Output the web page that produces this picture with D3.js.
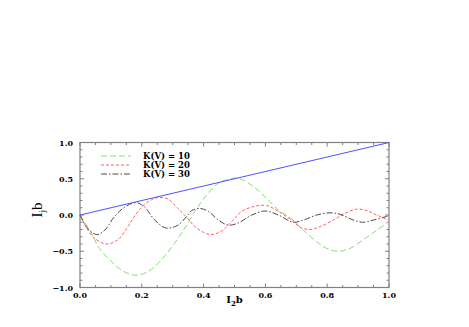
<!DOCTYPE html>
<head>
  <meta charset="utf-8">
  <script src="https://d3js.org/d3.v7.min.js"></script>
  <style>
    body { margin: 0; background: #fff; }
    .tick-label { font: bold 8px 'DejaVu Serif', serif; fill: #000; }
    .legend text { font: bold 8.5px 'DejaVu Serif', serif; fill: #000; }
    .axis-title { font-family: 'DejaVu Serif', serif; font-weight: bold; fill: #000; }
  </style>
</head>
<body>
<script>
// values
var xK10 = [0, 0.037, 0.058, 0.101, 0.134, 0.177, 0.220, 0.263, 0.306, 0.345, 0.372, 0.405, 0.448, 0.480, 0.510, 0.556, 0.599, 0.642, 0.690, 0.723, 0.766, 0.798, 0.836, 0.874, 0.917, 0.960, 1.0];
var yK10 = [0, -0.25, -0.43, -0.64, -0.76, -0.83, -0.78, -0.62, -0.39, -0.14, 0.05, 0.25, 0.44, 0.49, 0.51, 0.41, 0.25, 0.07, -0.07, -0.21, -0.37, -0.46, -0.50, -0.46, -0.34, -0.21, -0.09];

var xK20 = [0, 0.026, 0.047, 0.085, 0.123, 0.155, 0.188, 0.220, 0.252, 0.285, 0.317, 0.345, 0.372, 0.405, 0.426, 0.459, 0.491, 0.523, 0.566, 0.604, 0.642, 0.690, 0.712, 0.744, 0.777, 0.820, 0.852, 0.895, 0.928, 0.960, 1.0];
var yK20 = [0, -0.21, -0.32, -0.40, -0.34, -0.16, 0.05, 0.18, 0.24, 0.22, 0.09, -0.03, -0.16, -0.25, -0.27, -0.22, -0.09, 0.05, 0.12, 0.13, 0.05, -0.09, -0.17, -0.20, -0.16, -0.07, 0.01, 0.08, 0.06, 0.0, -0.07];

var xK30 = [0, 0.020, 0.042, 0.058, 0.080, 0.112, 0.145, 0.182, 0.209, 0.242, 0.279, 0.317, 0.345, 0.361, 0.388, 0.415, 0.448, 0.480, 0.512, 0.556, 0.599, 0.642, 0.690, 0.723, 0.766, 0.809, 0.841, 0.885, 0.917, 0.949, 1.0];
var yK30 = [0, -0.16, -0.25, -0.27, -0.21, -0.02, 0.11, 0.17, 0.11, -0.07, -0.18, -0.14, -0.02, 0.06, 0.09, 0.05, -0.07, -0.14, -0.11, 0.0, 0.055, 0.0, -0.10, -0.07, 0.0, 0.03, 0.01, -0.07, -0.10, -0.07, -0.01];

var xLine = [0, 1];
var yLine = [0, 1];

var legendLabels = ["K(V) = 10", "K(V) = 20", "K(V) = 30"];
var xTicks = [0, 0.2, 0.4, 0.6, 0.8, 1.0];
var yTicks = [-1.0, -0.5, 0.0, 0.5, 1.0];

var width = 469, height = 327;
var svg = d3.select("body").append("svg")
    .attr("width", width)
    .attr("height", height);

var x = d3.scaleLinear().domain([0, 1]).range([80, 389]);
var y = d3.scaleLinear().domain([-1, 1]).range([287.5, 142.5]);

var frameColor = "#808080";

// frame
svg.append("rect")
    .attr("x", x(0)).attr("y", y(1))
    .attr("width", x(1) - x(0)).attr("height", y(-1) - y(1))
    .attr("fill", "none")
    .attr("stroke", frameColor)
    .attr("stroke-width", 1.2);

// ticks, inward, on all four sides
var g = svg.append("g").attr("stroke", frameColor).attr("stroke-width", 1);
d3.range(0, 1.0001, 0.05).forEach(function(v) {
  var major = Math.abs(v * 5 - Math.round(v * 5)) < 1e-6;
  var len = major ? 4 : 2.5;
  g.append("line").attr("x1", x(v)).attr("x2", x(v)).attr("y1", y(-1)).attr("y2", y(-1) - len);
  g.append("line").attr("x1", x(v)).attr("x2", x(v)).attr("y1", y(1)).attr("y2", y(1) + len);
});
d3.range(-1, 1.0001, 0.1).forEach(function(v) {
  var major = Math.abs(v * 2 - Math.round(v * 2)) < 1e-6;
  var len = major ? 4 : 2.5;
  g.append("line").attr("y1", y(v)).attr("y2", y(v)).attr("x1", x(0)).attr("x2", x(0) + len);
  g.append("line").attr("y1", y(v)).attr("y2", y(v)).attr("x1", x(1)).attr("x2", x(1) - len);
});

// tick labels
svg.selectAll(".xl").data(xTicks).enter().append("text")
    .attr("class", "tick-label")
    .attr("x", function(d) { return x(d); })
    .attr("y", y(-1) + 10)
    .attr("text-anchor", "middle")
    .text(function(d) { return d.toFixed(1); });

svg.selectAll(".yl").data(yTicks).enter().append("text")
    .attr("class", "tick-label")
    .attr("x", x(0) - 7)
    .attr("y", function(d) { return y(d) + 3; })
    .attr("text-anchor", "end")
    .text(function(d) { return d < 0 ? "\u2212" + Math.abs(d).toFixed(1) : d.toFixed(1); });

// axis titles
var xt = svg.append("text").attr("class", "axis-title")
    .attr("x", (x(0) + x(1)) / 2)
    .attr("y", 303)
    .attr("text-anchor", "middle")
    .attr("font-size", 10);
xt.append("tspan").text("I");
xt.append("tspan").attr("font-size", 7).attr("dy", 2.5).text("2");
xt.append("tspan").attr("dy", -2.5).text("b");

var yt = svg.append("text")
    .attr("transform", "translate(42," + 210 + ") rotate(-90)")
    .attr("text-anchor", "middle")
    .attr("font-family", "'Liberation Serif', serif")
    .attr("font-size", 15)
    .attr("fill", "#000");
yt.append("tspan").text("I");
yt.append("tspan").attr("font-size", 9).attr("dy", 3).text("j");
yt.append("tspan").attr("dy", -3).text("b");

// curves
var series = [
  { xs: xK10, ys: yK10, color: "#86dd72", dash: "6,3" },
  { xs: xK20, ys: yK20, color: "#ff5f5f", dash: "3,2" },
  { xs: xK30, ys: yK30, color: "#4a4a4a", dash: "6,2,1.5,2" }
];

var line = d3.line()
    .x(function(d) { return x(d[0]); })
    .y(function(d) { return y(d[1]); })
    .curve(d3.curveCatmullRom.alpha(0.5));

series.forEach(function(s) {
  svg.append("path")
      .datum(d3.zip(s.xs, s.ys))
      .attr("d", line)
      .attr("fill", "none")
      .attr("stroke", s.color)
      .attr("stroke-width", 1)
      .attr("stroke-dasharray", s.dash);
});

svg.append("path")
    .datum(d3.zip(xLine, yLine))
    .attr("d", d3.line().x(function(d) { return x(d[0]); }).y(function(d) { return y(d[1]); }))
    .attr("fill", "none")
    .attr("stroke", "#5050ff")
    .attr("stroke-width", 1);

// legend
var legend = svg.append("g").attr("class", "legend");
series.forEach(function(s, i) {
  var ly = 156 + i * 9;
  legend.append("line")
      .attr("x1", 101).attr("x2", 131)
      .attr("y1", ly).attr("y2", ly)
      .attr("stroke", s.color)
      .attr("stroke-width", 1)
      .attr("stroke-dasharray", s.dash);
  legend.append("text")
      .attr("x", 143)
      .attr("y", ly + 3)
      .text(legendLabels[i]);
});
</script>
</body>
